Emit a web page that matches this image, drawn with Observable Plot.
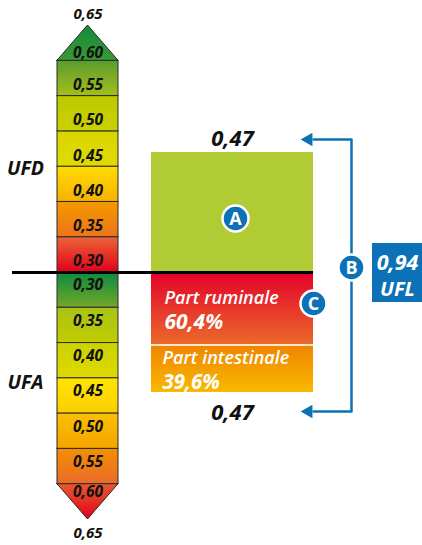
<!DOCTYPE html>
<html><head><meta charset="utf-8">
<script src="https://cdn.jsdelivr.net/npm/d3@7"></script>
<script src="https://cdn.jsdelivr.net/npm/@observablehq/plot@0.6"></script>
<style>body{margin:0;background:#fff} svg{display:block;overflow:visible}</style>
</head><body><div id="chart"></div><script>
// ---- data ----
const scaleBase = 0.30;
const scaleMax = 0.65;
const scaleMaxLabel = "0,65";
const ufdTicks = [0.30, 0.35, 0.40, 0.45, 0.50, 0.55, 0.60];
const ufaTicks = [0.30, 0.35, 0.40, 0.45, 0.50, 0.55, 0.60];
const tickLabels = ["0,30", "0,35", "0,40", "0,45", "0,50", "0,55", "0,60"];
const ufdValue = 0.47, ufdLabel = "0,47";
const ufaValue = 0.47, ufaLabel = "0,47";
const uflLabel = ["0,94", "UFL"];
const shareNames = ["Part ruminale", "Part intestinale"];
const shares = [60.4, 39.6];
const shareLabels = ["60,4%", "39,6%"];
const markers = ["A", "B", "C"];
// gradient colours [top, bottom] per step
const ufdColors = [["#ea6536","#e3001b"],["#f39a00","#ee7418"],["#ffdd00","#f8b000"],["#d8d600","#e0da00"],["#bcc900","#cbd100"],["#5a9c2f","#a3bf19"],["#138a3d","#3a9934"]];
const ufaColors = [["#0c8a3f","#74a72a"],["#a8c316","#c2cc00"],["#cdd200","#dcd900"],["#ffe600","#fccd00"],["#fbc000","#f5a300"],["#f39000","#eb6a2b"],["#e85a30","#e2001a"]];
const shareColors = [["#e4002b","#ec6a29"],["#ef8500","#f9b800"]];
const barGreen = "#b1cb35";
const blue = "#0c71b6";

// ---- layout ----
const W = 422, H = 545, mTop = 25, mBottom = 26;
const yMin = 2 * scaleBase - scaleMax;
const pxUnit = (scaleMax - yMin) / (H - mTop - mBottom);
const m = v => 2 * scaleBase - v; // mirror for UFA (below line)
const colL = 57, colR = 118, colMid = (colL + colR) / 2;
const barL = 151, barR = 313, barMid = (barL + barR) / 2;
const brX = 351;
const boxL = 372, boxR = 422, boxMid = (boxL + boxR) / 2;
const font = "Open Sans, Lato, sans-serif";

const step = ufdTicks[1] - ufdTicks[0];
const ufdSeg = ufdTicks.slice(0, -1).map((v, i) => ({y1: v, y2: v + step, g: `url(#ufd${i})`}));
const ufaSeg = ufaTicks.slice(0, -1).map((v, i) => ({y1: m(v), y2: m(v + step), g: `url(#ufa${i})`}));
const last = ufdTicks.length - 1;
const triUp = [{x: colL, y: ufdTicks[last]}, {x: colMid, y: scaleMax}, {x: colR, y: ufdTicks[last]}];
const triDown = [{x: colL, y: m(ufaTicks[last])}, {x: colMid, y: m(scaleMax)}, {x: colR, y: m(ufaTicks[last])}];

const span = ufaValue - scaleBase;
const rumEnd = scaleBase + span * shares[0] / 100;
const bt = ufdValue + 13 * pxUnit;
const bb = m(ufaValue) - 19 * pxUnit;

function defs() {
  const ns = "http://www.w3.org/2000/svg";
  const d = document.createElementNS(ns, "defs");
  const add = (id, [a, b]) => {
    const g = document.createElementNS(ns, "linearGradient");
    g.setAttribute("id", id); g.setAttribute("x1", 0); g.setAttribute("y1", 0); g.setAttribute("x2", 0); g.setAttribute("y2", 1);
    [[0, a], [1, b]].forEach(([o, c]) => { const s = document.createElementNS(ns, "stop"); s.setAttribute("offset", o); s.setAttribute("stop-color", c); g.appendChild(s); });
    d.appendChild(g);
  };
  ufdColors.forEach((c, i) => add("ufd" + i, c));
  ufaColors.forEach((c, i) => add("ufa" + i, c));
  add("rum", shareColors[0]); add("int", shareColors[1]);
  return d;
}

const txt = {fontFamily: font, fontStyle: "italic", fontWeight: "bold"};
const semi = {fontFamily: font, fontStyle: "italic", fontWeight: 600};
const markerPos = [[barMid + 3, (scaleBase + ufdValue) / 2, 6], [brX, scaleBase, -5], [barR, scaleBase, 31]]
  .map(([x, y, dy], i) => ({x, y: y - dy * pxUnit, t: markers[i]}));

const chart = Plot.plot({
  width: W, height: H, marginTop: mTop, marginBottom: mBottom, marginLeft: 0, marginRight: 0,
  x: {domain: [0, W], axis: null},
  y: {domain: [yMin, scaleMax], axis: null},
  color: {type: "identity"},
  marks: [
    defs,
    // scale columns
    Plot.rect(ufdSeg, {x1: colL, x2: colR, y1: "y1", y2: "y2", fill: "g", stroke: "#2a2a2a", strokeWidth: 1}),
    Plot.rect(ufaSeg, {x1: colL, x2: colR, y1: "y1", y2: "y2", fill: "g", stroke: "#2a2a2a", strokeWidth: 1}),
    Plot.areaY(triUp, {x: "x", y1: ufdTicks[last], y2: "y", fill: `url(#ufd${last})`, stroke: "#2a2a2a", strokeWidth: 1}),
    Plot.areaY(triDown, {x: "x", y1: m(ufaTicks[last]), y2: "y", fill: `url(#ufa${last})`, stroke: "#2a2a2a", strokeWidth: 1}),
    Plot.text(ufdTicks.slice(0, -1), {x: colMid, y: d => d, dy: -11, text: (d, i) => tickLabels[i], fontSize: 15.5, fill: "#111", ...txt}),
    Plot.text([ufdTicks[last]], {x: colMid, y: d => d, dy: -8, text: [tickLabels[last]], fontSize: 15.5, fill: "#111", ...txt}),
    Plot.text(ufaTicks.slice(0, -1), {x: colMid, y: d => m(d), dy: 13, text: (d, i) => tickLabels[i], fontSize: 15.5, fill: "#111", ...txt}),
    Plot.text([ufaTicks[last]], {x: colMid, y: d => m(d), dy: 8, text: [tickLabels[last]], fontSize: 15.5, fill: "#111", ...txt}),
    Plot.text([scaleMax], {x: colMid, y: d => d, dy: -11, text: [scaleMaxLabel], fontSize: 15, fill: "#111", ...txt}),
    Plot.text([scaleMax], {x: colMid, y: d => m(d), dy: 14, text: [scaleMaxLabel], fontSize: 15, fill: "#111", ...txt}),
    Plot.text(["UFD"], {x: 25, y: (ufdTicks[0] + ufdTicks[last]) / 2, dy: 2, text: d => d, fontSize: 19.5, fill: "#111", ...txt}),
    Plot.text(["UFA"], {x: 25, y: m((ufaTicks[0] + ufaTicks[last]) / 2), dy: 4, text: d => d, fontSize: 19.5, fill: "#111", ...txt}),
    // value bars
    Plot.rect([ufdValue], {x1: barL, x2: barR, y1: scaleBase, y2: d => d, fill: barGreen}),
    Plot.rect([rumEnd], {x1: barL, x2: barR, y1: m(scaleBase), y2: d => m(d), fill: "url(#rum)"}),
    Plot.rect([ufaValue], {x1: barL, x2: barR, y1: m(rumEnd), y2: d => m(d), fill: "url(#int)"}),
    Plot.ruleY([m(rumEnd)], {x1: barL, x2: barR, stroke: "#fff", strokeWidth: 1.5}),
    Plot.ruleY([scaleBase], {x1: 12, x2: barR, stroke: "#000", strokeWidth: 3}),
    Plot.text([shareNames[0]], {x: barL + 13, y: m(scaleBase), dy: 26, text: d => d, textAnchor: "start", fontSize: 18, fill: "#fff", ...semi}),
    Plot.text([shareLabels[0]], {x: barL + 13, y: m(scaleBase), dy: 50, text: d => d, textAnchor: "start", fontSize: 21, fill: "#fff", ...txt}),
    Plot.text([shareNames[1]], {x: barL + 11, y: m(rumEnd), dy: 13, text: d => d, textAnchor: "start", fontSize: 18, fill: "#fff", ...semi}),
    Plot.text([shareLabels[1]], {x: barL + 11, y: m(rumEnd), dy: 37, text: d => d, textAnchor: "start", fontSize: 20.5, fill: "#fff", ...txt}),
    Plot.text([ufdValue], {x: barMid, y: d => d, dy: -14, text: [ufdLabel], fontSize: 22, fill: "#111", ...txt}),
    Plot.text([ufaValue], {x: barMid, y: d => m(d), dy: 20, text: [ufaLabel], fontSize: 22, fill: "#111", ...txt}),
    // bracket
    Plot.line([[barR, bt], [brX, bt], [brX, bb], [barR, bb]], {stroke: blue, strokeWidth: 2.5}),
    Plot.dot([[308, bt], [308, bb]], {symbol: "triangle2", rotate: -90, r: 6.5, fill: blue}),
    // ufl box
    Plot.rect([scaleBase], {x1: boxL, x2: boxR, y1: d => d + 29 * pxUnit, y2: d => d - 30 * pxUnit, fill: blue}),
    Plot.text([uflLabel[0]], {x: boxMid, y: scaleBase, dy: -9, text: d => d, fontSize: 21.5, fill: "#fff", ...txt}),
    Plot.text([uflLabel[1]], {x: boxMid, y: scaleBase, dy: 17, text: d => d, fontSize: 20, fill: "#fff", ...txt}),
    // markers
    Plot.dot(markerPos, {x: "x", y: "y", r: 13, fill: blue, stroke: "#fff", strokeWidth: 2.5}),
    Plot.text(markerPos, {x: "x", y: "y", text: "t", fontSize: 18, fill: "#fff", fontFamily: font, fontWeight: "bold", dy: 1})
  ]
});
document.getElementById("chart").appendChild(chart);
</script></body></html>
